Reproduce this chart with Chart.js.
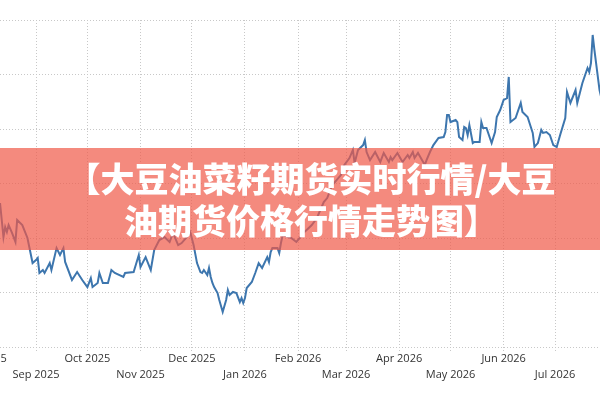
<!DOCTYPE html>
<html>
<head>
<meta charset="utf-8">
<script src="https://cdn.jsdelivr.net/npm/chart.js@4.4.1/dist/chart.umd.min.js"></script>
<style>
  html, body { margin: 0; padding: 0; width: 600px; height: 400px; overflow: hidden; background: #fff; }
  body { position: relative; }
  #wrap { position: absolute; left: -60px; top: 0; width: 720px; height: 400px; }
  .banner { position: absolute; left: 0; top: 148px; width: 600px; height: 102px; background: rgba(239, 88, 71, 0.7); }
  .title { position: absolute; left: 0; top: 157px; width: 622px; text-align: center; color: #fff;
           font: 900 34px/42px "Noto Sans CJK SC", sans-serif; }
</style>
</head>
<body>
<div id="wrap"><canvas id="chart" width="720" height="400"></canvas></div>
<div class="banner"></div>
<div class="title">【大豆油菜籽期货实时行情/大豆<br>油期货价格行情走势图】</div>

<script>
// days counted from 2025-08-01
const days = [10, 12, 13, 14, 15, 17, 19, 20, 23, 26, 29, 31, 32, 33, 35, 36, 39, 40, 43, 45,
  47, 48, 52, 55, 58, 61, 63, 64, 67, 68, 70, 73, 75, 77, 82, 83, 88, 91, 92, 95,
  98, 100, 103, 106, 109, 111, 114, 116, 119, 121, 123, 125, 127, 128, 129, 131, 132, 133, 134, 135,
  137, 138, 140, 142, 143, 144, 146, 148, 150, 151, 152, 153, 154, 157, 159, 161, 163, 166, 167, 168,
  169, 172, 173, 174, 175, 178, 180, 183, 185, 187, 189, 192, 195, 199, 201, 204, 209, 211, 214, 216,
  217, 219, 222, 223, 224, 226, 229, 232, 234, 237, 238, 239, 242, 245, 248, 249, 251, 252, 254, 258,
  259, 261, 263, 266, 269, 270, 271, 272, 273, 276, 277, 278, 280, 281, 282, 283, 284, 286, 287, 290,
  291, 292, 294, 297, 299, 300, 302, 304, 306, 307, 308, 311, 314, 315, 318, 321, 322, 324, 326, 327,
  329, 331, 333, 335, 337, 340, 341, 343, 346, 347, 350, 353, 354, 355, 356, 357, 360, 362];

const prices = [8257, 8007, 8081, 8044, 8095, 8037, 7971, 8132, 8095, 8000, 7816, 7838, 7853, 7743, 7765, 7743, 7816, 7765, 7926, 7875,
  7926, 7824, 7692, 7750, 7692, 7640, 7706, 7640, 7670, 7743, 7670, 7670, 7765, 7743, 7714, 7743, 7750, 7875, 7787, 7860,
  7765, 7912, 7985, 8007, 7971, 8037, 7948, 7963, 8007, 8044, 7948, 7816, 7750, 7743, 7765, 7728, 7780, 7714, 7670, 7640,
  7596, 7545, 7457, 7545, 7618, 7581, 7604, 7596, 7530, 7559, 7523, 7559, 7633, 7677, 7743, 7816, 7780, 7860, 7824, 7897,
  7926, 7926, 7890, 7963, 8022, 8007, 8000, 7971, 8000, 8037, 8059, 8095, 8147, 8264, 8293, 8389, 8462, 8536, 8587, 8646,
  8550, 8646, 8682, 8719, 8631, 8572, 8631, 8558, 8624, 8558, 8594, 8572, 8624, 8558, 8609, 8587, 8631, 8587, 8624, 8536,
  8572, 8631, 8682, 8734, 8741, 8778, 8903, 8903, 8851, 8866, 8851, 8741, 8719, 8815, 8807, 8756, 8829, 8697, 8705, 8705,
  8851, 8807, 8807, 8697, 8778, 8888, 8939, 9013, 9027, 9182, 8851, 8881, 8991, 8925, 8888, 8771, 8668, 8697, 8793, 8771,
  8778, 8756, 8682, 8668, 8756, 8881, 9072, 8991, 9086, 8991, 9138, 9248, 9218, 9284, 9490, 9380, 9086, 8976];

// month starts (days from 2025-08-01) and their labels
const monthDays = [0, 31, 61, 92, 122, 153, 184, 212, 243, 273, 304, 334];
const monthLabels = ['Aug 2025', 'Sep 2025', 'Oct 2025', 'Nov 2025', 'Dec 2025', 'Jan 2026',
  'Feb 2026', 'Mar 2026', 'Apr 2026', 'May 2026', 'Jun 2026', 'Jul 2026'];

const points = days.map((d, i) => ({ x: d, y: prices[i] }));

const gridColor = '#c8c8c8';

const data = {
  datasets: [{
    data: points,
    borderColor: '#3d76ae',
    borderWidth: 2,
    pointRadius: 0,
    tension: 0,
    fill: false
  }]
};

const config = {
  type: 'line',
  data: data,
  options: {
    responsive: false,
    animation: false,
    devicePixelRatio: 1,
    layout: { padding: { top: 20, bottom: 17, left: 0, right: 0 } },
    plugins: { legend: { display: false }, tooltip: { enabled: false } },
    scales: {
      x: {
        type: 'linear',
        min: -25.05,
        max: 395.3,
        afterBuildTicks: (scale) => {
          scale.ticks = monthDays.map(v => ({ value: v }));
        },
        ticks: {
          autoSkip: false,
          maxRotation: 0,
          padding: 0,
          color: '#333',
          font: { family: '"Open Sans", sans-serif', size: 11, lineHeight: '16px' },
          callback: (value, index) => {
            const lbl = monthLabels[monthDays.indexOf(value)];
            return index % 2 === 0 ? [lbl] : ['', lbl];
          }
        },
        grid: { color: gridColor, tickColor: gridColor, tickLength: 4, tickBorderDash: [1, 2] },
        border: { display: false, dash: [1, 2] }
      },
      y: {
        min: 7200,
        max: 9600,
        ticks: { display: false, stepSize: 400 },
        grid: { color: gridColor, drawTicks: false },
        border: { display: false, dash: [1, 2] }
      }
    }
  }
};

let c = document.getElementById('chart').getContext('2d');
new Chart(c, config);
</script>
</body>
</html>
